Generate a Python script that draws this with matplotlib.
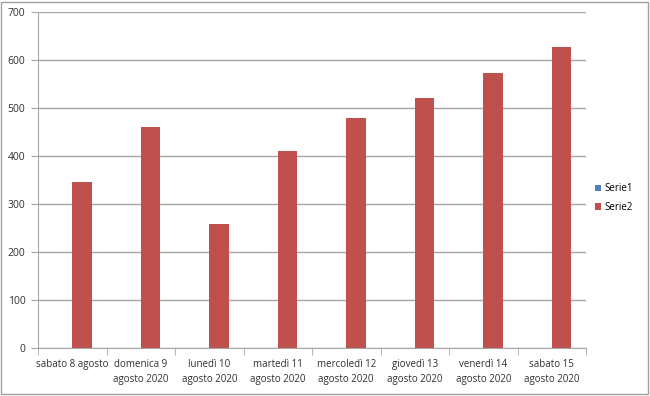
import numpy as np
import matplotlib
matplotlib.use('Agg')
from matplotlib import pyplot as plt
from matplotlib.patches import Rectangle

categories = ['sabato 8 agosto', 'domenica 9\nagosto 2020', 'lunedì 10\nagosto 2020',
              'martedì 11\nagosto 2020', 'mercoledì 12\nagosto 2020', 'giovedì 13\nagosto 2020',
              'venerdì 14\nagosto 2020', 'sabato 15\nagosto 2020']
serie1 = [0, 0, 0, 0, 0, 0, 0, 0]
serie2 = [345, 461, 258, 410, 479, 521, 572, 628]
y_ticks = [0, 100, 200, 300, 400, 500, 600, 700]

plt.rcParams['font.family'] = ['Open Sans', 'DejaVu Sans']

fig = plt.figure(figsize=(6.5, 3.96), dpi=100)
ax = fig.add_axes((38 / 650, 1 - 347.5 / 396, 548 / 650, 335.5 / 396))

n = len(categories)
x = np.arange(n)
w = 1 / 3.5
ax.bar(x - w / 2, serie1, width=w, color='#4F81BD', label='Serie1')
ax.bar(x + w / 2, serie2, width=w, color='#C0504D', label='Serie2')

ax.set_xlim(-0.5, n - 0.5)
ax.set_ylim(0, 700)
ax.set_yticks(y_ticks)
ax.yaxis.grid(True, color='#a6a6a6', linewidth=1)
ax.set_axisbelow(True)

ax.set_xticks(x)
ax.set_xticklabels(categories, fontsize=7, color='#303030', linespacing=1.55)
ax.tick_params(axis='x', length=0, pad=8)
ax.set_xticks(np.arange(-0.5, n, 1), minor=True)
ax.tick_params(axis='x', which='minor', length=5, color='#a6a6a6', direction='out')
ax.tick_params(axis='y', labelsize=7.5, colors='#303030', length=5, color='#a6a6a6', pad=4)
for lab in ax.get_yticklabels():
    lab.set_color('#303030')

for side in ['top', 'right']:
    ax.spines[side].set_visible(False)
for side in ['left', 'bottom']:
    ax.spines[side].set_color('#a6a6a6')

fig.legend(loc='center left', bbox_to_anchor=(586 / 650, 1 - 198 / 396), frameon=False,
           fontsize=7, handlelength=0.6, handleheight=0.6, handletextpad=0.4, labelspacing=0.8)

fig.patches.append(Rectangle((1 / 650, 2 / 396), 647 / 650, 392 / 396, transform=fig.transFigure,
                             fill=False, edgecolor='#a0a0a0', linewidth=1))

plt.savefig('out.png', dpi=100)
